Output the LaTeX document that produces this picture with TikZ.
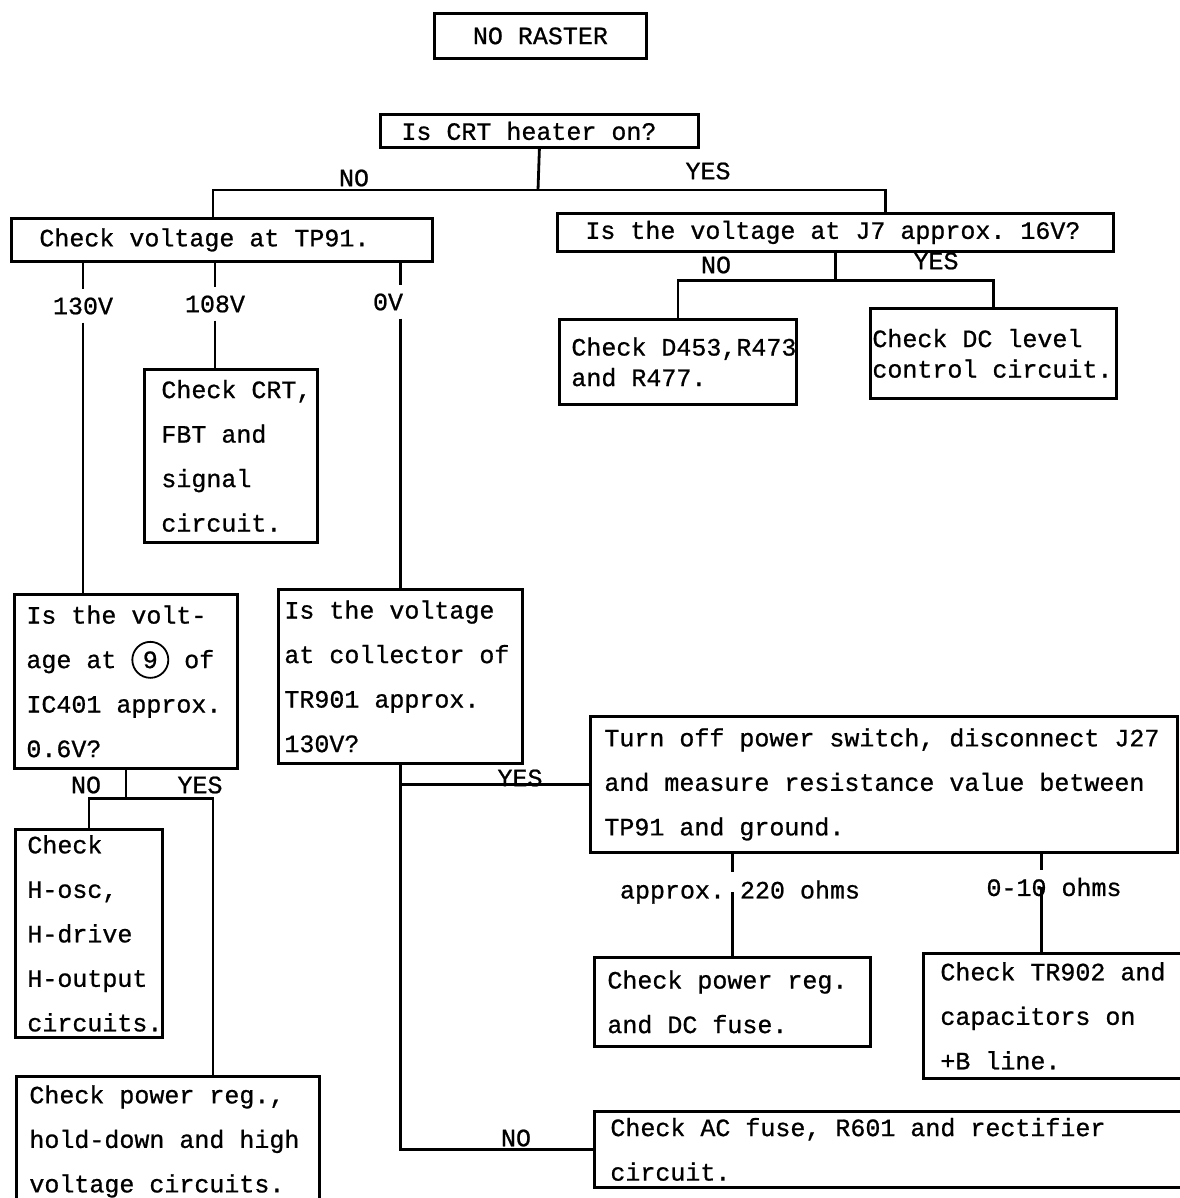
\documentclass[tikz,border=0pt]{standalone}
\usepackage{fontspec}
\setmonofont{Liberation Mono}[WordSpace={1,0,0}, FakeBold=0.8]
\usepackage{tikz}
\usetikzlibrary{positioning, calc}
\newcommand{\typew}{\ttfamily\fontsize{25}{44.5}\selectfont\frenchspacing}
\newcommand{\typews}{\ttfamily\fontsize{25}{30.5}\selectfont\frenchspacing}

\begin{document}
\begin{tikzpicture}[
    x=1pt, y=-1pt,
    box/.style={rectangle, draw, line width=2.8pt, anchor=north west, align=flush left, inner ysep=0pt, font=\typew,
        execute at begin node={\hyphenpenalty=10000\exhyphenpenalty=10000}},
    lbl/.style={inner xsep=2pt, inner ysep=8pt, font=\typews},
    link/.style={line width=2.8pt}
]
\useasboundingbox (0,0) rectangle (1179,1198);

% boxes
\node[box, text width=190pt, inner xsep=11pt, minimum height=45pt, align=flush center] (noraster) at (433,12) {NO RASTER};
\node[box, text width=276pt, inner xsep=21pt, minimum height=33pt] (heater) at (379,113) {Is CRT heater on?};
\node[box, text width=365pt, inner xsep=28pt, minimum height=43pt] (tp91) at (10,217) {Check voltage at TP91.};
\node[box, text width=500pt, inner xsep=28pt, minimum height=38pt] (j7) at (556,212) {Is the voltage at J7 approx. 16V?};
\node[box, text width=213pt, inner xsep=12pt, minimum height=85pt, font=\typews] (d453) at (558,318) {\mbox{Check D453,R473}\\and R477.};
\node[box, text width=242pt, inner xsep=2pt, minimum height=90pt, font=\typews] (dclevel) at (869,307) {Check DC level\\control circuit.};
\node[box, text width=139pt, inner xsep=17pt, minimum height=173pt] (crt) at (143,368) {\mbox{Check CRT,}\\FBT and\\signal\\circuit.};
\node[box, text width=199pt, inner xsep=12pt, minimum height=174pt] (ic401) at (13,593)
    {Is the volt-\\age at \tikz[baseline=(pin.base)]\node[draw, circle, line width=1.8pt, minimum size=36pt, inner sep=0pt] (pin) {9};\ of\\IC401 approx.\\0.6V?};
\node[box, text width=232pt, inner xsep=6pt, minimum height=174pt] (tr901) at (277,588) {Is the voltage\\at collector of\\TR901 approx.\\130V?};
\node[box, text width=559pt, inner xsep=14pt, minimum height=136pt] (turnoff) at (589,715)
    {Turn off power switch, disconnect J27\\and measure resistance value between\\TP91 and ground.};
\node[box, text width=250pt, inner xsep=13pt, minimum height=89pt] (dcfuse) at (593,956) {Check power reg.\\and DC fuse.};
\node[box, text width=226pt, inner xsep=17pt, minimum height=125pt] (tr902) at (922,952) {Check TR902 and\\capacitors on\\+B line.};
\node[box, text width=123pt, inner xsep=12pt, minimum height=208pt] (hosc) at (14,828) {Check\\H-osc,\\H-drive\\H-output\\circuits.};
\node[box, text width=277pt, inner xsep=13pt, minimum height=130pt] (preg1) at (15,1075) {Check power reg.,\\hold-down and high\\voltage circuits.};
\node[box, text width=565pt, inner xsep=16pt, minimum height=76pt] (acfuse) at (593,1110) {Check AC fuse, R601 and rectifier\\circuit.};

% labels
\node[lbl] (hno) at (354,178) {NO};
\node[lbl] (hyes) at (708,171) {YES};
\node[lbl] (v130) at (83,306) {130V};
\node[lbl] (v108) at (215,304) {108V};
\node[lbl] (v0) at (388,302) {0V};
\node[lbl] (jno) at (716,265) {NO};
\node[lbl] (jyes) at (936,261) {YES};
\node[lbl] (ino) at (86,785) {NO};
\node[lbl] (iyes) at (200,785) {YES};
\node[lbl] (tyes) at (520,778) {YES};
\node[lbl] (tno) at (516,1138) {NO};
\node[lbl] (r220) at (740,892) {approx. 220 ohms};
\node[lbl] (r010) at (1054,887) {0-10 ohms};

% junctions
\coordinate (j1) at (538,190);
\coordinate (k010) at ([xshift=-12pt]tr902.north);

% connectors
\draw[link] (heater.south) -- (j1);
\draw[link] ([xshift=-9pt]tp91.north) |- (j1) -| ([xshift=50pt]j7.north);

\draw[link] (tp91.south -| v130) -- (v130.north);
\draw[link] (v130.south) -- (v130.south |- ic401.north);
\draw[link] (tp91.south -| v108) -- (v108.north);
\draw[link] (v108.south) -- (v108.south |- crt.north);
\draw[link] (tp91.south -| tr901.north) -- (v0.north -| tr901.north);
\draw[link] (v0.south -| tr901.north) -- (tr901.north);

\draw[link] (j7.south) -- ++(0,28) coordinate (j2);
\draw[link] (d453.north) |- (j2) -| (dclevel.north);

\draw[link] (ic401.south) -- ++(0,29) coordinate (j3);
\draw[link] (hosc.north) |- (j3) -| ([xshift=45pt]preg1.north);

\draw[link] (tr901.south) -- (tr901.south |- acfuse.west) -- (acfuse.west);
\draw[link] (turnoff.west) -- (turnoff.west -| tr901.south);

\draw[link] (turnoff.south -| dcfuse.north) -- (r220.north -| dcfuse.north);
\draw[link] (r220 -| dcfuse.north) -- (dcfuse.north);
\draw[link] (k010 |- turnoff.south) -- (k010 |- r010.north);
\draw[link] (k010 |- r010) -- (k010);

\end{tikzpicture}
\end{document}
